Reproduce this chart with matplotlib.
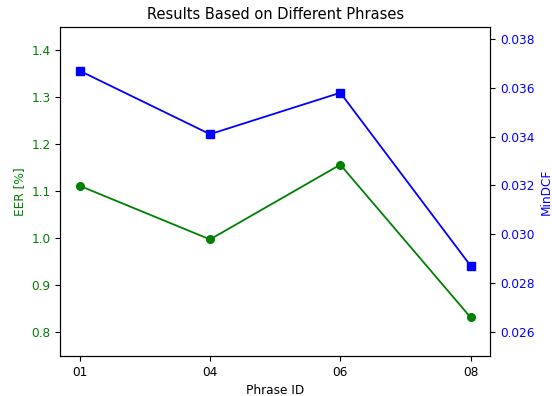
import matplotlib
matplotlib.use('Agg')
import matplotlib.pyplot as plt

phrases = ['01', '04', '06', '08']
eer = [1.112, 0.998, 1.157, 0.832]
mindcf = [0.0367, 0.0341, 0.0358, 0.0287]

plt.rcParams['font.size'] = 8.75
plt.rcParams['axes.titlesize'] = 10.5

def plot_data(filepath):
    fig, ax1 = plt.subplots(figsize=(5.52, 3.96), dpi=100)
    fig.subplots_adjust(left=0.109, right=0.888, bottom=0.101, top=0.932)

    x = range(len(phrases))
    ax1.plot(x, eer, color='green', marker='o', linewidth=1.3, markersize=5.5, label='EER')
    ax1.set_xticks(list(x))
    ax1.set_xticklabels(phrases)
    ax1.set_xlabel('Phrase ID')
    ax1.set_ylabel('EER [%]', color='green')
    ax1.tick_params(axis='y', labelcolor='green')
    ax1.set_ylim(0.75, 1.45)

    ax2 = ax1.twinx()
    ax2.plot(x, mindcf, color='blue', marker='s', linewidth=1.3, markersize=5.5, label='MinDCF')
    ax2.set_ylabel('MinDCF', color='blue')
    ax2.tick_params(axis='y', labelcolor='blue')
    ax2.set_ylim(0.025, 0.0385)
    ax2.set_yticks([0.026, 0.028, 0.030, 0.032, 0.034, 0.036, 0.038])

    ax1.set_title('Results Based on Different Phrases')
    fig.savefig(filepath, dpi=100)

plot_data('out.png')
